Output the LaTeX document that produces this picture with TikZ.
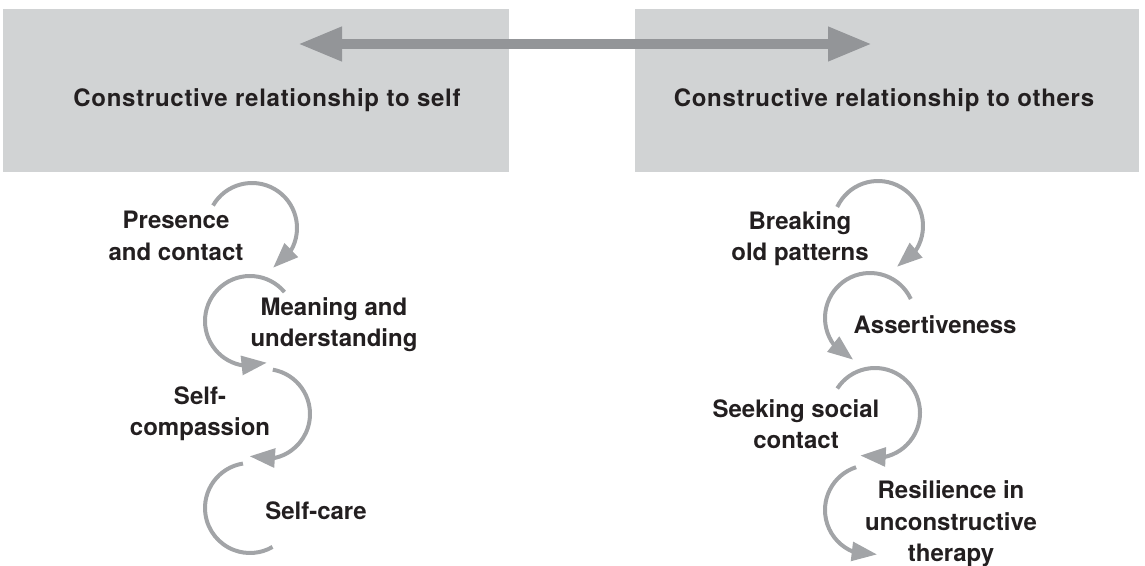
\documentclass[tikz,border=0pt]{standalone}
\usepackage{fontspec}
\setmainfont{TeX Gyre Heros}
\newfontfamily\headfont[LetterSpace=3]{TeX Gyre Heros}
\usetikzlibrary{arrows.meta,bending,calc}
\definecolor{boxgray}{HTML}{D1D3D4}
\definecolor{arrowgray}{HTML}{939598}
\definecolor{loopgray}{HTML}{A2A4A7}
\definecolor{ink}{HTML}{231F20}

\begin{document}
\begin{tikzpicture}[x=0.75pt,y=0.75pt,
    head/.style={anchor=base,text=ink,font=\headfont\bfseries\fontsize{18}{21}\selectfont},
    lbl/.style={align=center,text=ink,font=\bfseries\fontsize{18}{23.5}\selectfont},
    loop/.style={loopgray,line width=3pt},
    tip/.style={-{Triangle[length=19pt,width=14pt,flex]}}]
  \useasboundingbox (0,0) rectangle (1145,-566);
  % boxes and the arrow between them
  \fill[boxgray] (3,-9) rectangle (509,-172);
  \fill[boxgray] (635,-9) rectangle (1139,-172);
  \coordinate (l) at (298,-44);
  \coordinate (r) at (872,-44);
  \draw[arrowgray,line width=7.5pt,
    {Triangle[length=33pt,width=24pt]}-{Triangle[length=33pt,width=24pt]}] (l) -- (r);
  \node[head] (self) at (267,-107) {Constructive relationship to self};
  \node[head] (others) at (884,-107) {Constructive relationship to others};
  % loop centres
  \coordinate (c1) at (252,-228);
  \coordinate (c2) at (250,-321);
  \coordinate (c3) at (265,-414);
  \coordinate (c4) at (250,-508);
  \coordinate (d1) at (878,-226);
  \coordinate (d2) at (870,-318);
  \coordinate (d3) at (875,-413);
  \coordinate (d4) at (870,-510);
  % left column
  \draw[loop,tip] ($(c1)+(150:45)$) arc[start angle=150,end angle=-62,radius=45];
  \draw[loop,tip] ($(c2)+(40:45)$) arc[start angle=40,end angle=292,radius=45];
  \draw[loop,tip] ($(c3)+(80:45)$) arc[start angle=80,end angle=-110,radius=45];
  \draw[loop] ($(c4)+(99:45)$) arc[start angle=99,end angle=300,radius=45];
  \node[lbl] (presence) at (176,-236) {Presence\\and contact};
  \node[lbl] (meaning) at (334,-325) {Meaning and\\understanding};
  \node[lbl] (compassion) at (200,-414) {Self-\\compassion};
  \node[lbl,anchor=base] (selfcare) at (316,-519) {Self-care};
  % right column
  \draw[loop,tip] ($(d1)+(155:45)$) arc[start angle=155,end angle=-65,radius=45];
  \draw[loop,tip] ($(d2)+(25:45)$) arc[start angle=25,end angle=248,radius=45];
  \draw[loop,tip] ($(d3)+(147:45)$) arc[start angle=147,end angle=-109,radius=45];
  \draw[loop,tip] ($(d4)+(108:45)$) arc[start angle=108,end angle=279,radius=45];
  \node[lbl] (breaking) at (800,-239) {Breaking\\old patterns};
  \node[lbl,anchor=base] (assert) at (935,-334) {Assertiveness};
  \node[lbl] (seeking) at (796,-424) {Seeking social\\contact};
  \node[lbl] (resilience) at (951,-524) {Resilience in\\unconstructive\\therapy};
\end{tikzpicture}
\end{document}
